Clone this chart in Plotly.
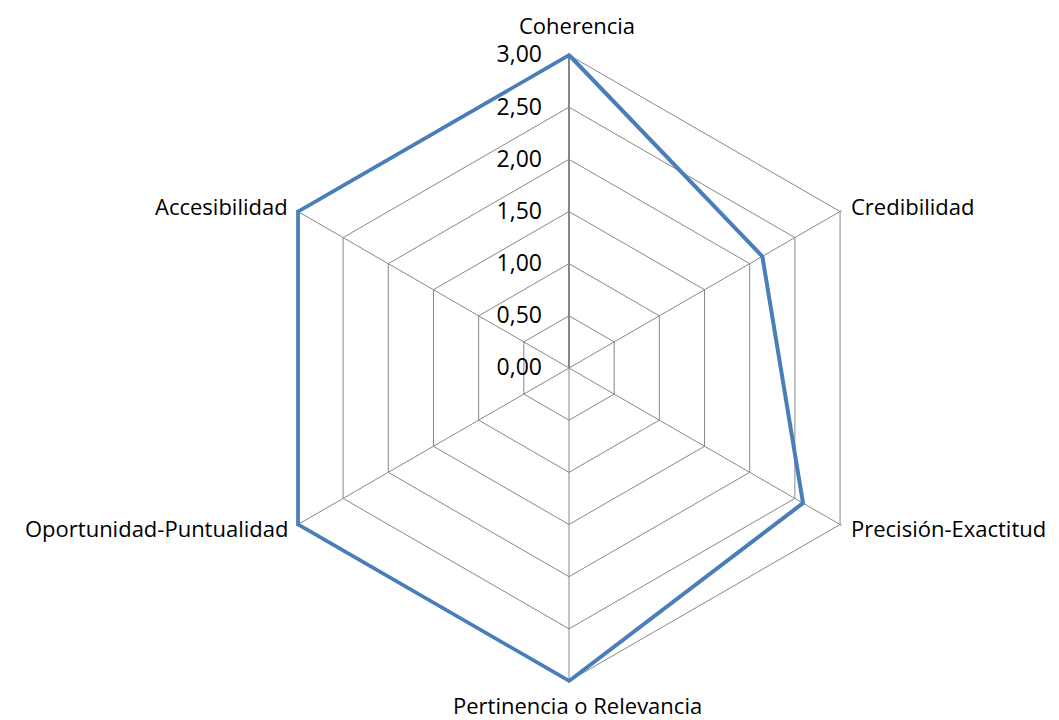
import math
import plotly.graph_objects as go

categories = ["Coherencia", "Credibilidad", "Precisión-Exactitud",
              "Pertinencia o Relevancia", "Oportunidad-Puntualidad", "Accesibilidad"]
values = [3.00, 2.14, 2.59, 3.00, 3.00, 3.00]
tick_vals = [0, 0.5, 1.0, 1.5, 2.0, 2.5, 3.0]
tick_text = ["0,00", "0,50", "1,00", "1,50", "2,00", "2,50", "3,00"]

W, H = 1059, 720
cx, cy, R = 569, 368, 311
RMAX = 3.0
REXT = 3.02  # small headroom so the outer line is not clipped
# compensate plotly's internal offset
pcx, pcy = cx - 8, cy - 8
pR = (R + 2) * REXT / RMAX

FONT = "Open Sans, sans-serif"
FS = 23
FS_CAT = 22

fig = go.Figure()
fig.add_trace(go.Scatterpolar(
    r=values + [values[0]],
    theta=categories + [categories[0]],
    mode="lines",
    line=dict(color="#4A7EBB", width=4),
    cliponaxis=False,
    showlegend=False,
))

grid = "#878787"
fig.update_layout(
    width=W, height=H,
    margin=dict(l=0, r=0, t=0, b=0),
    paper_bgcolor="white",
    font=dict(family=FONT, size=FS, color="black"),
    polar=dict(
        domain=dict(x=[(pcx - pR) / W, (pcx + pR) / W], y=[(H - pcy - pR) / H, (H - pcy + pR) / H]),
        gridshape="linear",
        bgcolor="white",
        angularaxis=dict(
            rotation=90, direction="clockwise",
            showline=False,
            gridcolor=grid, gridwidth=1,
            ticks="", showticklabels=False, layer="below traces",
        ),
        radialaxis=dict(
            range=[0, REXT], angle=90, tickangle=90,
            tickvals=tick_vals, ticktext=tick_text,
            showline=True, linecolor=grid, linewidth=2,
            gridcolor=grid, gridwidth=1,
            ticks="outside", ticklen=18, tickcolor="rgba(0,0,0,0)",
            side="counterclockwise", layer="below traces",
            tickfont=dict(size=FS),
        ),
    ),
)

# category labels placed around the hexagon
for i, cat in enumerate(categories):
    ang = math.radians(90 - 60 * i)
    vx = cx + R * math.cos(ang)
    vy = cy - R * math.sin(ang)
    c = math.cos(ang)
    s = math.sin(ang)
    if abs(c) < 1e-6:
        xa = "center"
        px, py = vx, vy + (-40 if s > 0 else 18)
    elif c > 0:
        xa = "left"
        px, py = vx + 3, vy + (-15 if s > 0 else -4)
    else:
        xa = "right"
        px, py = vx - 18, vy + (-15 if s > 0 else -4)
    fig.add_annotation(x=px / W, y=1 - py / H, xref="paper", yref="paper",
                       text=cat, showarrow=False, xanchor=xa, yanchor="middle",
                       font=dict(family=FONT, size=FS_CAT, color="black"))

fig.write_html("out.html")
